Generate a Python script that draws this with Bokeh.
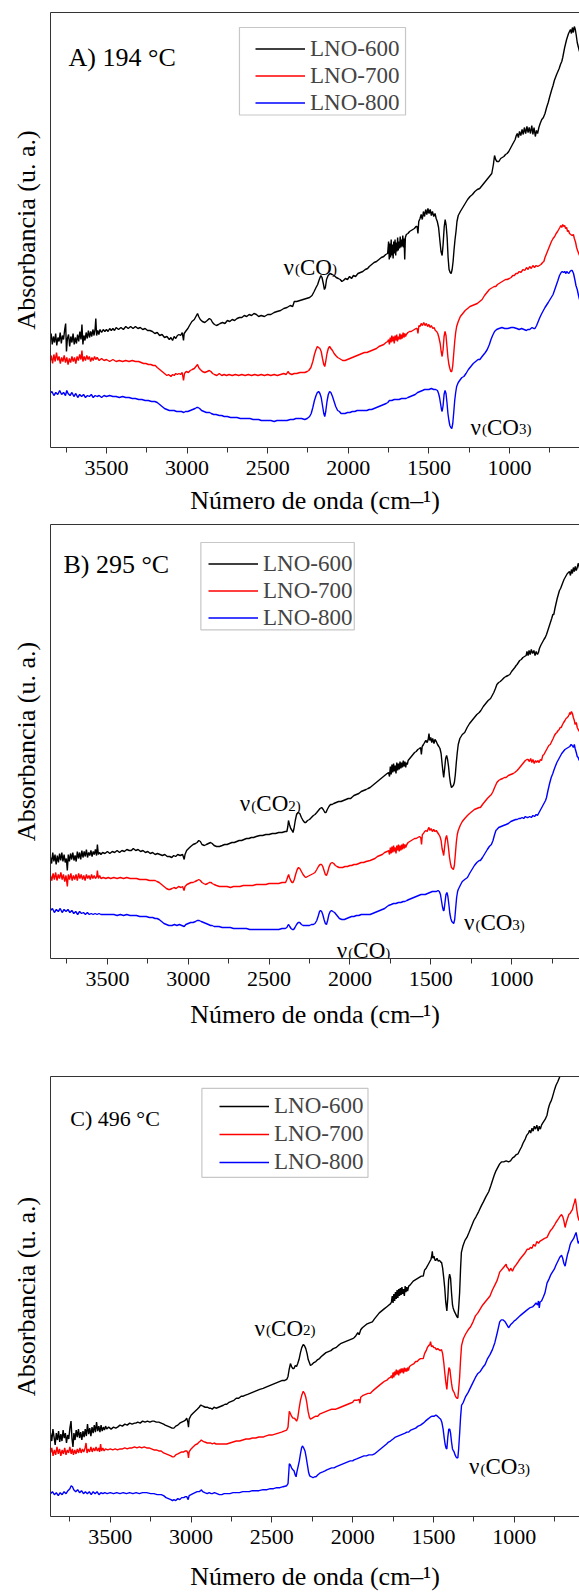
from bokeh.plotting import figure
from bokeh.models import (Range1d, LinearAxis, SingleIntervalTicker, FixedTicker, Legend, LegendItem,
                          BoxAnnotation)
from bokeh.core.properties import value
from bokeh.layouts import column
from bokeh.embed import file_html
from bokeh.resources import INLINE

FONT = "Liberation Serif"
AXC = "#333333"

# ---------------- data (wavenumber cm-1, absorbance a.u.) ----------------
SERIES = ["LNO-600", "LNO-700", "LNO-800"]
COLORS = ["#000000", "#ff0000", "#0000ff"]
TICK_STEP = 500

# Panel A, 194 °C
A600 = [(3850,108),(3843,114),(3836,103),(3829,111),(3822,105),(3815,114),(3808,102),(3801,110),(3794,106),(3787,115),
(3780,104),(3773,112),(3766,108),(3759,118),(3753,124),(3748,96),(3742,109),(3735,113),(3728,101),(3721,111),(3714,105),
(3707,114),(3700,103),(3693,110),(3686,104),(3679,113),(3672,106),(3665,116),(3658,108),(3652,123),(3646,103),(3640,112),
(3633,107),(3626,115),(3619,109),(3612,117),(3605,110),(3598,116),(3591,111),(3584,118),(3577,112),(3570,119),(3566,129),
(3561,112),(3554,117),(3547,113),(3540,118),(3530,115),(3520,118),(3510,116),(3500,118),(3490,116),(3480,119),(3470,117),
(3460,119),(3450,117),(3440,120),(3425,118),(3410,120),(3395,118),(3380,121),(3365,119),(3350,121),(3335,119),(3320,121),
(3305,119),(3290,120),(3275,118),(3260,119),(3245,117),(3230,117),(3215,116),(3200,114),(3185,115),(3170,112),(3155,113),
(3140,110),(3125,111),(3110,108),(3100,110),(3090,107),(3080,111),(3070,109),(3060,112),(3050,113),(3040,112),(3030,115),
(3022,107),(3018,114),(3005,117),(2995,119),(2985,122),(2970,126),(2955,128),(2945,131),(2935,134),(2928,131),(2918,128),
(2905,126),(2890,125),(2875,127),(2862,129),(2852,128),(2842,125),(2830,123),(2818,122),(2805,123),(2795,124),(2780,125),
(2765,124),(2750,127),(2735,126),(2720,128),(2705,127),(2690,129),(2675,130),(2660,130),(2645,132),(2630,131),(2615,133),
(2600,132),(2585,134),(2570,133),(2556,131),(2540,132),(2520,131),(2500,133),(2480,133),(2460,135),(2442,136),(2420,137),
(2400,139),(2380,140),(2360,142),(2345,141),(2335,146),(2320,146),(2300,147),(2280,148),(2260,149),(2240,150),(2225,152),
(2212,156),(2200,160),(2190,163),(2180,168),(2170,172),(2163,170),(2155,164),(2148,158),(2142,160),(2135,168),(2125,172),
(2113,174),(2100,173),(2088,172),(2075,170),(2062,169),(2050,168),(2040,166),(2030,167),(2018,169),(2005,168),(1992,171),
(1980,169),(1968,172),(1955,171),(1940,174),(1925,175),(1910,176),(1895,178),(1880,179),(1870,181),(1855,183),(1840,185),
(1825,186),(1810,188),(1795,190),(1780,191),(1768,193),(1756,194),(1750,206),(1746,188),(1742,204),(1738,190),(1734,208),
(1730,192),(1726,203),(1722,189),(1718,206),(1714,194),(1710,208),(1706,192),(1702,205),(1698,196),(1694,210),(1690,197),
(1686,206),(1682,199),(1678,211),(1674,200),(1670,208),(1666,201),(1662,212),(1658,200),(1654,209),(1650,188),(1646,210),
(1640,213),(1630,214),(1620,216),(1610,217),(1600,218),(1590,219),(1580,221),(1573,221),(1568,214),(1563,226),(1555,229),
(1548,233),(1541,228),(1534,236),(1527,231),(1520,238),(1513,233),(1506,239),(1499,234),(1492,238),(1485,232),(1478,236),
(1470,231),(1462,234),(1455,229),(1448,226),(1440,220),(1432,207),(1425,196),(1418,192),(1412,203),(1405,221),(1399,228),
(1393,222),(1387,210),(1381,190),(1375,178),(1368,175),(1362,174),(1356,178),(1350,186),(1344,198),(1338,208),(1332,216),
(1326,226),(1318,232),(1305,236),(1290,240),(1275,244),(1260,248),(1245,251),(1230,253),(1215,256),(1200,258),(1185,259),
(1170,262),(1155,265),(1140,268),(1125,271),(1110,274),(1100,283),(1093,292),(1086,288),(1078,286),(1066,286),(1055,289),
(1045,290),(1035,291),(1025,293),(1015,294),(1005,296),(995,299),(985,302),(975,305),(965,308),(958,312),(952,314),
(945,310),(938,316),(930,312),(922,318),(915,313),(908,320),(900,314),(892,321),(885,315),(878,320),(870,314),(862,322),
(855,313),(848,320),(840,311),(833,317),(826,314),(818,320),(810,324),(800,328),(790,330),(780,334),(770,340),(760,345),
(752,350),(745,354),(738,358),(730,362),(722,367),(715,370),(708,373),(700,376),(692,379),(684,383),(676,386),(670,390),
(664,395),(658,400),(652,404),(646,408),(640,411),(634,414),(628,416),(622,418),(616,414),(610,420),(604,415),(598,421),
(592,418),(586,412),(580,405),(574,401),(566,396)]

A700 = [(3850,85),(3842,92),(3834,84),(3826,93),(3818,86),(3810,95),(3802,87),(3794,91),(3786,84),(3778,90),(3770,86),
(3762,92),(3754,85),(3746,90),(3738,83),(3730,89),(3722,85),(3714,91),(3706,86),(3698,90),(3690,84),(3682,91),(3674,87),
(3666,93),(3658,88),(3652,97),(3646,86),(3638,91),(3630,87),(3622,92),(3614,88),(3606,91),(3598,86),(3590,90),(3582,87),
(3574,91),(3566,88),(3558,90),(3545,87),(3530,89),(3515,87),(3500,88),(3480,86),(3460,88),(3440,86),(3420,87),(3400,86),
(3380,87),(3360,86),(3340,87),(3320,86),(3300,86),(3285,85),(3270,84),(3255,84),(3240,83),(3225,83),(3210,82),(3197,82),
(3185,80),(3170,78),(3155,76),(3140,74),(3125,72),(3115,73),(3100,71),(3090,73),(3080,72),(3070,74),(3060,73),(3050,74),
(3040,73),(3030,75),(3022,67),(3016,74),(3005,76),(2992,75),(2980,77),(2968,78),(2955,79),(2945,81),(2935,83),(2928,80),
(2918,78),(2905,76),(2890,75),(2875,76),(2862,77),(2852,76),(2842,74),(2830,73),(2815,72),(2800,74),(2785,72),(2770,73),
(2755,72),(2740,73),(2720,72),(2700,73),(2680,72),(2660,73),(2640,72),(2620,73),(2600,72),(2580,73),(2560,72),(2540,73),
(2520,72),(2500,73),(2480,72),(2460,73),(2440,72),(2420,73),(2400,74),(2385,73),(2374,76),(2365,74),(2350,73),(2335,74),
(2320,74),(2300,75),(2285,75),(2270,75),(2255,76),(2245,77),(2232,80),(2220,86),(2210,93),(2200,98),(2192,101),(2184,100),
(2176,99),(2168,96),(2160,89),(2152,83),(2146,81),(2140,86),(2132,94),(2124,99),(2116,101),(2108,99),(2098,97),(2088,94),
(2078,92),(2066,90),(2055,89),(2045,88),(2035,87),(2020,87),(2005,88),(1990,89),(1975,90),(1960,91),(1945,92),(1930,93),
(1915,94),(1900,95),(1885,95),(1870,96),(1855,97),(1840,98),(1825,99),(1810,101),(1795,102),(1780,103),(1766,105),(1756,106),
(1750,108),(1745,103),(1740,110),(1735,105),(1730,112),(1725,106),(1720,111),(1715,104),(1710,112),(1705,107),(1700,113),
(1695,106),(1690,111),(1685,108),(1680,114),(1675,108),(1670,113),(1665,109),(1660,115),(1655,110),(1650,114),(1645,111),
(1640,113),(1630,115),(1620,116),(1610,116),(1600,117),(1590,118),(1580,119),(1573,119),(1568,114),(1562,122),(1555,121),
(1548,124),(1540,122),(1532,125),(1524,122),(1516,124),(1508,121),(1500,123),(1492,120),(1485,122),(1476,119),(1468,120),
(1460,117),(1452,116),(1445,114),(1438,110),(1430,104),(1424,96),(1418,91),(1412,98),(1406,111),(1400,116),(1394,112),
(1388,101),(1382,90),(1376,83),(1370,79),(1364,76),(1358,76),(1352,82),(1346,94),(1340,106),(1334,115),(1328,121),
(1318,126),(1305,131),(1290,134),(1275,137),(1260,139),(1245,141),(1230,142),(1215,143),(1200,144),(1185,146),(1170,148),
(1155,152),(1140,155),(1125,158),(1116,159),(1105,160),(1095,161),(1085,161),(1075,163),(1065,164),(1055,165),(1045,166),
(1035,167),(1025,168),(1015,168),(1001,169),(990,170),(980,172),(970,172),(960,174),(950,174),(940,176),(930,175),(916,178),
(905,177),(895,180),(885,178),(875,181),(865,179),(855,182),(845,180),(835,182),(825,181),(815,182),(805,183),(795,185),
(787,186),(780,190),(770,194),(760,198),(750,202),(740,206),(730,209),(720,211),(711,214),(702,216),(695,218),(688,220),
(682,222),(676,220),(670,223),(664,221),(658,222),(652,219),(646,220),(640,216),(634,217),(628,214),(620,213),(612,212),
(604,213),(598,209),(590,205),(584,200),(578,197),(566,192)]

A800 = [(3850,54),(3838,56),(3826,52),(3814,55),(3802,53),(3790,57),(3778,53),(3766,55),(3754,52),(3746,57),(3738,54),
(3726,52),(3714,55),(3702,51),(3690,54),(3678,50),(3666,53),(3654,51),(3642,53),(3630,50),(3618,52),(3606,51),(3594,53),
(3582,50),(3570,52),(3558,51),(3545,52),(3530,50),(3515,52),(3500,51),(3480,52),(3460,51),(3440,51),(3420,50),(3400,51),
(3380,50),(3360,50),(3340,49),(3320,49),(3300,48),(3280,48),(3260,47),(3240,47),(3220,46),(3200,46),(3185,45),(3170,43),
(3155,41),(3140,39),(3125,38),(3110,37),(3095,37),(3080,37),(3065,36),(3050,36),(3035,36),(3020,35),(3010,36),(2995,36),
(2980,37),(2965,38),(2950,39),(2940,40),(2932,40),(2922,39),(2910,37),(2895,36),(2880,35),(2870,35),(2860,35),(2850,34),
(2835,33),(2820,33),(2800,32),(2785,32),(2770,31),(2750,31),(2730,30),(2710,30),(2690,30),(2670,29),(2650,29),(2630,29),
(2610,29),(2590,28),(2570,28),(2556,28),(2540,27),(2520,27),(2500,27),(2480,27),(2460,26),(2442,27),(2420,27),(2400,27),
(2380,27),(2360,28),(2340,28),(2325,29),(2310,29),(2290,29),(2270,28),(2255,29),(2240,31),(2230,34),(2220,40),(2210,47),
(2200,52),(2192,55),(2184,56),(2176,54),(2168,50),(2160,42),(2152,34),(2146,31),(2140,36),(2132,46),(2124,53),(2116,56),
(2108,55),(2098,51),(2088,46),(2078,41),(2066,37),(2055,36),(2045,34),(2035,34),(2020,34),(2005,35),(1990,35),(1975,36),
(1960,36),(1945,37),(1930,37),(1915,37),(1900,37),(1885,37),(1870,38),(1855,38),(1840,39),(1825,40),(1810,41),(1795,42),
(1780,43),(1765,44),(1755,45),(1745,47),(1730,47),(1715,48),(1700,48),(1685,48),(1670,49),(1655,49),(1642,49),(1630,50),
(1615,51),(1600,52),(1585,53),(1570,55),(1555,56),(1540,57),(1527,58),(1515,58),(1500,58),(1485,59),(1470,58),(1458,58),
(1447,57),(1440,54),(1434,50),(1428,44),(1422,38),(1418,36),(1412,42),(1406,53),(1400,57),(1394,54),(1388,45),(1382,34),
(1376,27),(1370,22),(1364,20),(1358,19),(1352,24),(1346,35),(1340,47),(1334,55),(1328,61),(1318,65),(1305,68),(1295,70),
(1283,71),(1270,74),(1255,78),(1240,81),(1225,84),(1210,86),(1195,88),(1184,88),(1170,91),(1160,93),(1150,95),(1138,98),
(1125,103),(1115,108),(1105,112),(1093,116),(1080,118),(1065,119),(1047,120),(1030,119),(1010,119),(990,120),(975,120),
(955,119),(940,118),(925,119),(910,118),(895,117),(887,118),(875,118),(860,120),(850,119),(842,119),(832,122),(822,126),
(812,130),(800,134),(780,140),(760,145),(745,149),(730,153),(715,160),(700,167),(690,172),(680,175),(673,176),(665,175),
(658,176),(650,174),(645,176),(640,175),(632,174),(625,176),(618,177),(611,177),(603,174),(595,168),(588,162),(580,158),
(572,152),(566,148)]

# Panel B, 295 °C
B600 = [(3852,101),(3845,95),(3838,106),(3831,97),(3824,104),(3817,94),(3810,103),(3803,96),(3796,105),(3789,98),(3782,106),
(3775,97),(3768,104),(3761,96),(3754,100),(3748,88),(3742,104),(3735,97),(3728,105),(3721,99),(3714,106),(3707,98),(3700,103),
(3693,97),(3686,107),(3679,100),(3672,106),(3665,99),(3658,108),(3651,101),(3644,107),(3637,102),(3630,109),(3623,101),
(3616,106),(3609,103),(3602,108),(3595,102),(3588,107),(3581,104),(3574,109),(3567,103),(3562,114),(3556,104),(3549,106),
(3540,104),(3530,106),(3515,105),(3500,107),(3485,105),(3470,107),(3455,106),(3440,108),(3425,106),(3410,108),(3395,107),
(3380,109),(3365,108),(3352,108),(3340,110),(3325,108),(3310,109),(3295,107),(3280,108),(3265,106),(3250,107),(3235,105),
(3220,106),(3205,104),(3190,105),(3175,104),(3160,103),(3145,104),(3130,102),(3115,102),(3102,101),(3090,103),(3078,102),
(3065,104),(3050,103),(3035,104),(3025,99),(3020,104),(3010,108),(2998,110),(2985,112),(2970,114),(2955,115),(2945,116),
(2935,118),(2925,117),(2915,114),(2900,113),(2888,114),(2875,115),(2862,116),(2852,115),(2840,113),(2825,112),(2807,112),
(2790,113),(2775,114),(2760,114),(2745,115),(2730,116),(2715,116),(2700,117),(2685,118),(2670,118),(2655,119),(2640,120),
(2625,120),(2610,121),(2595,121),(2580,122),(2557,123),(2540,123),(2520,124),(2500,124),(2480,125),(2460,125),(2440,126),
(2420,126),(2400,127),(2390,127),(2384,132),(2380,138),(2374,134),(2366,130),(2358,128),(2352,126),(2346,130),(2338,138),
(2330,144),(2320,146),(2310,145),(2300,141),(2290,138),(2280,136),(2273,136),(2262,138),(2250,139),(2238,141),(2226,143),
(2216,144),(2205,146),(2195,148),(2185,150),(2175,151),(2165,149),(2155,146),(2148,146),(2140,149),(2130,152),(2120,154),
(2110,154),(2100,155),(2085,156),(2070,157),(2055,157),(2040,158),(2025,159),(2010,160),(1995,160),(1989,161),(1975,163),
(1960,164),(1945,165),(1930,167),(1915,168),(1900,169),(1888,170),(1875,171),(1860,173),(1845,175),(1830,177),(1815,179),
(1800,181),(1785,183),(1770,185),(1761,186),(1755,182),(1750,192),(1745,184),(1740,194),(1735,186),(1730,195),(1725,187),
(1720,193),(1715,185),(1710,196),(1705,188),(1700,195),(1695,189),(1690,197),(1685,190),(1680,196),(1675,191),(1670,198),
(1665,192),(1660,197),(1655,191),(1650,196),(1645,194),(1640,198),(1630,200),(1620,202),(1610,204),(1600,206),(1590,207),
(1580,209),(1570,210),(1563,211),(1558,204),(1553,212),(1545,214),(1538,216),(1530,218),(1522,216),(1516,219),(1511,225),
(1506,218),(1500,221),(1494,216),(1488,220),(1480,215),(1474,219),(1466,217),(1458,214),(1450,212),(1443,210),(1436,205),
(1430,195),(1424,186),(1420,181),(1414,190),(1408,200),(1402,203),(1396,199),(1390,192),(1384,182),(1378,175),(1372,171),
(1366,172),(1360,173),(1354,176),(1348,184),(1342,196),(1336,206),(1330,214),(1320,220),(1305,224),(1290,226),(1275,231),
(1260,235),(1245,238),(1230,241),(1215,244),(1200,246),(1190,248),(1175,252),(1160,255),(1145,258),(1130,260),(1120,263),
(1110,266),(1100,270),(1091,274),(1080,276),(1070,277),(1057,279),(1045,281),(1035,282),(1022,283),(1011,284),(1000,287),
(990,289),(980,291),(972,293),(966,294),(958,296),(950,298),(940,299),(930,301),(920,302),(910,303),(905,307),(898,303),
(892,308),(885,304),(878,309),(870,305),(862,308),(855,303),(848,307),(840,304),(834,306),(828,310),(820,313),(810,316),
(800,319),(792,321),(784,324),(776,328),(768,332),(760,336),(752,340),(745,344),(739,344),(732,350),(725,355),(718,360),
(711,364),(704,368),(697,370),(690,373),(683,376),(676,379),(669,381),(662,383),(655,385),(648,386),(642,387),(636,383),
(630,389),(624,385),(618,391),(612,387),(606,392),(600,388),(594,391),(588,395),(584,394),(580,390)]

B700 = [(3852,83),(3844,78),(3836,85),(3828,79),(3820,86),(3812,78),(3804,84),(3796,80),(3788,86),(3780,79),(3772,84),
(3764,77),(3756,83),(3748,72),(3742,84),(3734,79),(3726,85),(3718,78),(3710,83),(3702,79),(3694,84),(3686,78),(3678,85),
(3670,80),(3662,84),(3654,79),(3646,83),(3638,78),(3630,84),(3622,80),(3614,83),(3606,79),(3598,84),(3590,80),(3582,83),
(3574,80),(3566,82),(3562,88),(3556,80),(3548,83),(3540,80),(3525,81),(3510,80),(3495,81),(3480,80),(3460,81),(3440,80),
(3420,81),(3400,80),(3380,81),(3360,80),(3340,80),(3320,80),(3300,79),(3280,79),(3260,79),(3240,78),(3220,78),(3205,78),
(3193,77),(3180,76),(3165,74),(3150,72),(3135,70),(3122,69),(3114,69),(3100,70),(3088,71),(3075,70),(3060,72),(3045,71),
(3035,72),(3026,68),(3020,72),(3008,74),(2995,75),(2982,76),(2970,76),(2958,77),(2945,78),(2935,79),(2925,78),(2915,76),
(2905,75),(2893,74),(2880,75),(2870,76),(2858,76),(2852,75),(2840,74),(2825,73),(2807,72),(2790,72),(2775,72),(2760,72),
(2739,71),(2720,72),(2700,72),(2680,72),(2660,73),(2640,73),(2620,73),(2600,73),(2580,74),(2557,74),(2540,74),(2520,74),
(2500,75),(2480,75),(2460,75),(2440,75),(2420,76),(2405,76),(2398,76),(2390,79),(2384,82),(2379,84),(2374,81),(2366,78),
(2358,76),(2352,76),(2344,79),(2336,84),(2326,89),(2318,91),(2310,90),(2300,87),(2290,84),(2280,82),(2273,81),(2262,82),
(2250,83),(2238,84),(2226,85),(2216,86),(2205,89),(2195,92),(2185,94),(2175,94),(2168,92),(2160,88),(2152,84),(2145,83),
(2138,86),(2130,91),(2120,95),(2110,96),(2100,95),(2090,93),(2080,92),(2067,91),(2057,91),(2045,91),(2030,92),(2015,92),
(2000,93),(1989,93),(1975,94),(1960,94),(1945,95),(1930,96),(1915,96),(1900,97),(1875,98),(1860,99),(1845,100),(1830,102),
(1815,103),(1800,104),(1785,106),(1770,107),(1761,108),(1755,104),(1750,111),(1745,105),(1740,112),(1735,106),(1730,113),
(1725,107),(1720,111),(1715,105),(1710,113),(1705,108),(1700,114),(1695,107),(1690,113),(1685,108),(1680,114),(1675,109),
(1670,115),(1665,110),(1660,114),(1655,111),(1648,114),(1640,116),(1630,117),(1620,118),(1610,119),(1600,120),(1590,120),
(1580,121),(1570,122),(1562,121),(1557,114),(1552,124),(1545,125),(1538,127),(1530,128),(1522,127),(1515,130),(1511,131),
(1505,128),(1498,130),(1490,127),(1482,129),(1474,127),(1466,128),(1458,126),(1450,124),(1443,122),(1436,118),(1430,110),
(1424,106),(1420,103),(1414,112),(1408,120),(1402,123),(1396,118),(1390,110),(1384,101),(1378,95),(1372,91),(1366,90),
(1360,89),(1354,93),(1348,104),(1342,116),(1336,124),(1330,128),(1318,133),(1305,137),(1290,140),(1273,143),(1260,145),
(1245,147),(1230,149),(1215,150),(1200,151),(1193,151),(1180,154),(1165,157),(1150,160),(1138,162),(1125,164),(1115,167),
(1105,171),(1091,176),(1080,178),(1070,179),(1055,180),(1045,181),(1034,181),(1020,183),(1005,184),(990,185),(980,186),
(966,188),(955,190),(945,192),(935,194),(925,196),(915,198),(905,199),(898,199),(890,197),(882,200),(875,196),(868,199),
(860,195),(852,198),(845,196),(838,198),(830,196),(822,199),(815,198),(807,203),(800,204),(790,207),(780,210),(770,213),
(761,214),(752,217),(743,220),(735,223),(727,225),(720,226),(712,228),(705,229),(700,231),(693,231),(685,234),(678,236),
(670,238),(663,240),(656,241),(650,242),(644,244),(640,246),(636,244),(630,247),(624,245),(618,241),(612,238),(607,234),
(600,236),(594,231),(588,229),(584,228),(580,227)]

B800 = [(3852,48),(3840,50),(3828,46),(3816,49),(3804,47),(3792,50),(3780,46),(3768,49),(3756,47),(3744,49),(3732,46),
(3720,48),(3708,45),(3696,47),(3684,44),(3672,47),(3660,45),(3648,46),(3636,44),(3624,46),(3612,44),(3600,45),(3588,44),
(3576,45),(3564,44),(3552,45),(3540,44),(3520,44),(3500,44),(3480,44),(3460,44),(3440,43),(3420,44),(3400,43),(3380,44),
(3360,43),(3340,43),(3320,43),(3300,42),(3280,42),(3260,42),(3240,41),(3220,41),(3205,40),(3193,40),(3180,39),(3165,37),
(3150,35),(3135,34),(3120,33),(3114,33),(3100,33),(3085,34),(3070,33),(3055,34),(3040,33),(3025,32),(3015,34),(3000,35),
(2985,36),(2970,36),(2955,37),(2945,38),(2932,38),(2920,37),(2905,36),(2890,35),(2875,34),(2862,33),(2852,33),(2840,32),
(2825,32),(2810,32),(2790,31),(2770,31),(2739,31),(2720,30),(2700,30),(2680,30),(2660,30),(2640,30),(2620,29),(2600,29),
(2580,29),(2557,29),(2540,29),(2520,29),(2500,29),(2480,29),(2460,29),(2440,29),(2420,30),(2400,30),(2390,31),(2384,33),
(2379,34),(2372,32),(2364,30),(2356,29),(2348,29),(2340,31),(2330,34),(2320,36),(2310,36),(2300,34),(2290,33),(2280,33),
(2273,33),(2262,33),(2250,33),(2238,34),(2226,34),(2216,35),(2205,38),(2195,43),(2188,47),(2182,48),(2175,47),(2168,44),
(2160,39),(2152,35),(2145,34),(2138,38),(2130,44),(2122,47),(2114,48),(2105,47),(2095,46),(2085,44),(2075,42),(2065,40),
(2050,39),(2034,39),(2020,40),(2005,41),(1990,42),(1975,42),(1960,43),(1945,43),(1930,44),(1915,44),(1900,44),(1875,44),
(1860,45),(1845,46),(1830,47),(1815,48),(1800,49),(1785,50),(1770,52),(1761,53),(1745,54),(1730,55),(1715,55),(1700,56),
(1685,56),(1670,57),(1660,57),(1648,58),(1635,59),(1620,60),(1605,61),(1590,62),(1575,63),(1560,64),(1545,64),(1534,64),
(1520,65),(1505,66),(1490,67),(1475,67),(1465,67),(1455,68),(1447,67),(1440,64),(1434,58),(1428,52),(1422,48),(1418,48),
(1412,56),(1406,64),(1400,66),(1394,62),(1388,54),(1382,45),(1376,40),(1370,37),(1364,36),(1358,35),(1352,39),(1346,50),
(1340,61),(1334,67),(1330,69),(1318,73),(1305,77),(1290,79),(1273,81),(1260,85),(1245,89),(1230,93),(1215,96),(1200,98),
(1193,98),(1180,101),(1165,105),(1150,109),(1138,112),(1125,114),(1115,118),(1105,124),(1097,128),(1091,129),(1080,131),
(1065,132),(1050,133),(1034,134),(1020,135),(1005,137),(990,138),(975,139),(966,139),(955,140),(945,140),(935,141),(925,140),
(915,142),(905,141),(898,141),(888,142),(878,141),(868,143),(858,142),(848,144),(840,143),(830,146),(820,149),(810,152),
(800,155),(790,158),(784,161),(775,168),(765,175),(755,181),(745,185),(739,188),(730,192),(720,196),(710,199),(700,202),
(690,205),(680,207),(670,209),(660,210),(650,211),(640,212),(632,214),(625,213),(618,211),(612,214),(607,210),(600,206),
(594,202),(588,201),(584,199),(580,198)]

# Panel C, 496 °C
C600 = [(3870,84),(3862,76),(3855,88),(3848,80),(3841,72),(3834,84),(3827,77),(3820,86),(3813,75),(3806,83),(3799,76),
(3792,87),(3785,79),(3778,84),(3771,74),(3764,82),(3757,78),(3750,89),(3743,96),(3737,78),(3731,70),(3725,84),(3718,77),
(3711,87),(3704,80),(3697,88),(3690,79),(3683,85),(3676,77),(3669,86),(3662,80),(3655,88),(3648,81),(3641,93),(3634,83),
(3627,89),(3620,81),(3613,90),(3606,84),(3599,92),(3592,85),(3585,95),(3578,86),(3571,91),(3564,85),(3557,92),(3550,86),
(3543,90),(3536,87),(3529,91),(3522,88),(3510,90),(3495,88),(3480,90),(3466,89),(3455,90),(3440,92),(3425,91),(3410,93),
(3395,92),(3380,94),(3365,93),(3350,94),(3342,94),(3330,95),(3315,94),(3300,96),(3285,95),(3270,96),(3255,95),(3240,96),
(3230,96),(3215,95),(3200,95),(3185,94),(3170,93),(3160,92),(3145,91),(3130,90),(3118,89),(3106,89),(3095,91),(3082,92),
(3070,94),(3058,95),(3045,96),(3035,97),(3027,99),(3020,95),(3016,90),(3012,98),(3000,102),(2988,104),(2975,106),(2962,108),
(2950,110),(2942,112),(2937,112),(2925,111),(2912,110),(2900,110),(2888,109),(2878,109),(2869,108),(2858,110),(2845,109),
(2830,110),(2815,111),(2800,112),(2790,113),(2779,113),(2765,115),(2750,116),(2735,117),(2720,119),(2705,119),(2690,121),
(2680,121),(2667,122),(2650,123),(2635,124),(2620,125),(2605,126),(2590,127),(2575,128),(2554,129),(2540,130),(2525,131),
(2510,132),(2495,133),(2480,134),(2465,135),(2450,136),(2435,137),(2420,137),(2408,138),(2400,141),(2393,148),(2385,154),
(2378,151),(2370,149),(2363,149),(2355,152),(2347,151),(2340,154),(2332,158),(2323,165),(2315,170),(2306,173),(2298,172),
(2290,169),(2282,164),(2275,158),(2268,155),(2261,152),(2252,153),(2240,155),(2228,156),(2216,158),(2205,159),(2194,161),
(2180,163),(2165,165),(2150,166),(2135,167),(2120,169),(2104,170),(2090,172),(2075,174),(2060,175),(2045,176),(2030,177),
(2015,178),(2000,179),(1991,180),(1980,182),(1968,185),(1960,183),(1950,188),(1940,190),(1925,192),(1910,194),(1895,195),
(1878,196),(1865,199),(1850,202),(1835,205),(1820,207),(1805,209),(1790,211),(1775,213),(1766,214),(1760,216),(1755,222),
(1750,215),(1745,224),(1740,217),(1735,226),(1730,219),(1725,228),(1720,220),(1715,229),(1710,222),(1705,230),(1700,223),
(1695,231),(1690,224),(1685,229),(1680,222),(1675,232),(1670,226),(1665,231),(1660,227),(1653,232),(1645,233),(1635,235),
(1625,237),(1615,238),(1605,239),(1595,240),(1585,241),(1575,242),(1563,242),(1555,248),(1545,250),(1535,253),(1525,256),
(1515,259),(1510,263),(1507,267),(1503,260),(1497,262),(1490,258),(1484,258),(1478,260),(1470,257),(1462,258),(1455,256),
(1450,256),(1443,250),(1436,240),(1430,230),(1424,216),(1417,207),(1411,220),(1406,238),(1400,244),(1394,240),(1388,225),
(1382,213),(1378,210),(1372,207),(1366,205),(1360,203),(1354,201),(1349,200),(1344,210),(1338,225),(1332,250),(1327,266),
(1318,272),(1305,278),(1293,281),(1280,286),(1265,292),(1250,298),(1236,302),(1220,307),(1203,313),(1190,317),(1175,322),
(1158,327),(1145,333),(1135,338),(1125,343),(1113,348),(1100,352),(1090,355),(1079,357),(1065,357),(1050,358),(1035,357),
(1023,358),(1010,361),(1000,362),(990,364),(977,365),(965,369),(955,372),(945,376),(932,380),(922,384),(912,386),(905,389),
(898,386),(890,391),(883,388),(876,393),(868,390),(860,394),(852,388),(845,393),(838,390),(831,394),(824,396),(816,398),
(808,400),(800,403),(797,404),(790,410),(783,414),(776,417),(770,419),(764,422),(757,426),(750,430),(742,434),(736,436),
(730,438),(720,442),(710,446),(700,450),(680,456),(660,462),(640,470),(620,478),(600,486)]

C700 = [(3870,64),(3862,69),(3854,61),(3846,67),(3838,62),(3830,70),(3822,63),(3814,68),(3806,61),(3798,67),(3790,63),
(3782,69),(3774,62),(3766,67),(3758,64),(3750,70),(3742,63),(3735,68),(3728,62),(3720,67),(3712,63),(3704,68),(3696,64),
(3688,69),(3680,64),(3672,68),(3664,65),(3656,69),(3650,74),(3644,64),(3636,68),(3628,65),(3620,70),(3612,65),(3604,69),
(3596,66),(3588,70),(3580,66),(3572,69),(3566,65),(3560,73),(3554,66),(3546,69),(3538,66),(3530,68),(3515,67),(3500,68),
(3485,67),(3470,68),(3455,67),(3440,68),(3425,68),(3410,69),(3395,68),(3380,69),(3365,69),(3350,70),(3335,69),(3320,70),
(3305,69),(3290,70),(3275,69),(3260,69),(3245,68),(3230,67),(3215,67),(3200,66),(3185,66),(3170,64),(3155,63),(3140,62),
(3125,61),(3115,60),(3106,60),(3095,62),(3082,63),(3070,64),(3058,65),(3045,65),(3035,66),(3027,66),(3020,64),(3016,59),
(3012,65),(3000,68),(2988,70),(2975,72),(2962,73),(2950,75),(2942,76),(2937,77),(2928,76),(2915,75),(2900,74),(2888,74),
(2878,74),(2869,73),(2858,74),(2845,73),(2830,73),(2815,73),(2800,73),(2779,73),(2760,74),(2740,75),(2720,76),(2700,76),
(2680,77),(2660,78),(2640,78),(2620,79),(2600,79),(2580,80),(2554,80),(2540,81),(2520,82),(2500,82),(2480,83),(2460,84),
(2440,85),(2425,86),(2408,87),(2400,90),(2395,100),(2392,106),(2386,104),(2378,101),(2370,99),(2363,99),(2355,98),(2347,96),
(2340,99),(2332,108),(2323,117),(2315,122),(2306,126),(2298,124),(2290,120),(2284,115),(2276,106),(2268,100),(2261,98),
(2250,99),(2240,100),(2228,101),(2216,101),(2205,103),(2190,104),(2175,105),(2160,106),(2145,107),(2130,108),(2104,108),
(2090,109),(2075,110),(2060,111),(2045,112),(2030,113),(2015,114),(2000,115),(1991,117),(1975,117),(1960,118),(1955,114),
(1950,120),(1935,122),(1920,123),(1905,124),(1890,124),(1878,126),(1865,128),(1850,130),(1835,132),(1820,134),(1805,136),
(1790,137),(1778,139),(1766,140),(1760,142),(1755,139),(1750,145),(1745,140),(1740,146),(1735,142),(1730,148),(1725,143),
(1720,147),(1715,142),(1710,148),(1705,144),(1700,149),(1695,145),(1690,149),(1685,144),(1680,150),(1675,146),(1670,149),
(1665,146),(1660,150),(1655,147),(1648,151),(1640,152),(1631,153),(1620,154),(1610,156),(1600,156),(1590,158),(1580,159),
(1570,159),(1563,159),(1555,164),(1545,167),(1538,170),(1530,172),(1522,173),(1518,176),(1512,171),(1505,172),(1498,170),
(1490,170),(1482,168),(1474,169),(1466,168),(1458,167),(1450,168),(1443,164),(1436,155),(1430,145),(1424,136),(1417,128),
(1411,140),(1404,150),(1398,148),(1394,142),(1388,134),(1382,128),(1376,126),(1372,125),(1366,122),(1360,120),(1354,119),
(1349,119),(1344,128),(1338,140),(1332,158),(1326,172),(1315,179),(1300,184),(1285,188),(1270,191),(1255,196),(1240,202),
(1225,205),(1210,209),(1195,213),(1180,216),(1165,219),(1150,222),(1135,228),(1120,233),(1105,238),(1090,246),(1080,248),
(1070,250),(1060,252),(1050,254),(1045,251),(1038,250),(1030,247),(1022,250),(1011,247),(1000,251),(990,253),(977,256),
(965,259),(950,262),(935,265),(920,269),(909,269),(900,271),(890,270),(880,274),(870,272),(860,277),(850,275),(842,277),
(832,278),(822,279),(812,280),(797,281),(785,285),(775,288),(764,290),(752,293),(742,296),(730,299),(718,302),(707,304),
(700,302),(693,298),(685,291),(678,296),(670,300),(662,304),(655,305),(648,307),(640,309),(634,313),(628,316),(622,320),
(617,315),(612,308),(606,302),(599,298),(596,300)]

C800 = [(3870,23),(3858,25),(3846,22),(3834,24),(3822,21),(3810,24),(3798,22),(3786,25),(3774,23),(3762,26),(3750,28),
(3742,31),(3734,30),(3726,27),(3714,25),(3702,27),(3690,24),(3678,26),(3666,23),(3654,25),(3642,23),(3630,25),(3618,22),
(3606,25),(3594,23),(3582,25),(3570,22),(3558,24),(3546,23),(3534,24),(3520,23),(3500,24),(3480,23),(3460,24),(3440,23),
(3420,24),(3400,23),(3380,24),(3360,23),(3340,24),(3320,23),(3300,24),(3275,24),(3250,23),(3230,23),(3210,22),(3195,22),
(3185,22),(3170,21),(3155,19),(3140,18),(3125,17),(3115,16),(3106,17),(3095,16),(3082,18),(3070,17),(3058,19),(3045,19),
(3035,20),(3027,20),(3018,17),(3012,21),(3000,22),(2988,23),(2975,24),(2962,25),(2950,25),(2940,26),(2937,27),(2928,25),
(2915,24),(2900,23),(2888,24),(2875,23),(2869,23),(2855,24),(2840,23),(2825,22),(2810,22),(2795,23),(2779,23),(2760,23),
(2740,24),(2720,24),(2700,24),(2680,25),(2660,25),(2640,25),(2620,26),(2600,26),(2580,26),(2554,27),(2530,27),(2510,28),
(2490,28),(2470,29),(2450,29),(2430,30),(2408,31),(2400,33),(2395,45),(2392,53),(2386,52),(2378,49),(2370,47),(2363,46),
(2356,42),(2350,40),(2345,45),(2338,50),(2330,56),(2323,63),(2316,69),(2311,71),(2303,69),(2295,66),(2288,60),(2280,52),
(2272,44),(2266,41),(2255,40),(2245,39),(2235,40),(2227,40),(2215,42),(2200,44),(2185,45),(2171,46),(2160,47),(2145,48),
(2130,49),(2115,49),(2104,50),(2090,51),(2075,52),(2060,53),(2045,54),(2030,55),(2015,56),(2000,56),(1991,57),(1975,58),
(1960,59),(1945,60),(1930,61),(1915,61),(1900,62),(1878,62),(1865,63),(1850,65),(1835,67),(1820,69),(1805,71),(1790,73),
(1778,75),(1766,76),(1750,78),(1735,80),(1720,81),(1705,82),(1690,83),(1675,84),(1665,85),(1653,85),(1640,87),(1625,88),
(1610,89),(1595,91),(1580,92),(1563,94),(1550,96),(1535,98),(1520,100),(1508,101),(1495,101),(1485,102),(1475,101),
(1462,99),(1455,98),(1448,95),(1440,88),(1434,80),(1428,73),(1422,69),(1417,68),(1411,80),(1405,88),(1399,88),(1394,84),
(1388,75),(1382,68),(1376,66),(1372,65),(1366,62),(1360,60),(1354,59),(1349,59),(1344,68),(1338,83),(1332,100),(1326,112),
(1315,115),(1300,121),(1285,125),(1270,130),(1255,135),(1240,140),(1225,144),(1210,146),(1195,150),(1180,153),(1165,159),
(1150,163),(1135,168),(1120,175),(1105,185),(1090,196),(1080,198),(1070,198),(1056,196),(1045,193),(1035,190),(1023,193),
(1010,195),(1000,197),(990,198),(977,200),(965,202),(950,204),(935,206),(920,208),(905,210),(887,211),(875,213),(865,215),
(855,213),(850,217),(845,210),(840,216),(831,217),(820,221),(810,225),(797,235),(785,239),(775,243),(764,246),(752,249),
(742,253),(730,257),(718,261),(707,263),(700,260),(693,255),(685,252),(678,258),(670,264),(662,268),(655,273),(648,276),
(640,278),(632,280),(625,283),(617,286),(610,280),(604,275),(599,277),(596,276)]

PANEL_TITLES = ["A) 194 °C", "B) 295 °C", "C) 496 °C"]
X_TITLE = "Número de onda (cm–¹)"
Y_TITLE = "Absorbancia (u. a.)"

EM = {"ν": 0.5, "(": 0.333, ")": 0.333, "C": 0.667, "O": 0.722, "2": 0.5, "3": 0.5}


def add_nu(p, wn, yv, mol, sub, big=23, small=15):
    parts = [("ν", big, 0), ("(", small, 2), (mol, big, 0)]
    if sub:
        parts.append((sub, small, 2))
    parts.append((")", small, 2))
    off = 0.0
    for txt, size, dy in parts:
        p.text(x=[wn], y=[yv], text=[txt], x_offset=off, y_offset=dy,
               text_font=value(FONT), text_font_size=f"{size}px", text_color="#000000",
               text_baseline="alphabetic", text_align="left")
        off += sum(EM.get(c, 0.6) for c in txt) * size


def make_panel(height, top, bottom, left, x0, x1, ymax, data, title, title_pos, title_size,
               leg_loc, leg_row, box, notes, xlab_standoff):
    p = figure(width=579, height=height, x_range=Range1d(x0, x1), y_range=Range1d(0, ymax),
               output_backend="svg", toolbar_location=None,
               min_border_left=left, min_border_right=0, min_border_top=top, min_border_bottom=bottom)
    p.outline_line_color = None
    p.grid.visible = False
    p.background_fill_color = "white"
    p.border_fill_color = "white"

    xa = p.xaxis[0]
    xa.ticker = SingleIntervalTicker(interval=TICK_STEP, num_minor_ticks=2)
    xa.major_tick_out = 6
    xa.major_tick_in = 0
    xa.minor_tick_out = 5
    xa.minor_tick_in = 0
    xa.axis_line_color = AXC
    xa.major_tick_line_color = AXC
    xa.minor_tick_line_color = AXC
    xa.major_label_text_font = FONT
    xa.major_label_text_font_size = "22px"
    xa.major_label_text_color = "#000000"
    xa.major_label_standoff = 7
    xa.axis_label = X_TITLE
    xa.axis_label_text_font = FONT
    xa.axis_label_text_font_size = "26px"
    xa.axis_label_text_font_style = "normal"
    xa.axis_label_text_color = "#000000"
    xa.axis_label_standoff = xlab_standoff

    ya = p.yaxis[0]
    ya.ticker = FixedTicker(ticks=[])
    ya.major_tick_out = 0
    ya.major_tick_in = 0
    ya.minor_tick_out = 0
    ya.minor_tick_in = 0
    ya.major_label_standoff = 0
    ya.axis_line_color = AXC
    ya.axis_label = Y_TITLE
    ya.axis_label_text_font = FONT
    ya.axis_label_text_font_size = "26px"
    ya.axis_label_text_font_style = "normal"
    ya.axis_label_text_color = "#000000"
    ya.axis_label_standoff = 10

    topax = LinearAxis(ticker=FixedTicker(ticks=[]), major_tick_out=0, major_tick_in=0,
                       minor_tick_out=0, minor_tick_in=0, major_label_standoff=0,
                       axis_line_color=AXC)
    p.add_layout(topax, "above")

    rends = []
    for pts, color in zip(data, COLORS):
        xs = [a for a, b in pts]
        ys = [b for a, b in pts]
        rends.append(p.line(xs, ys, line_color=color, line_width=1.4))

    p.add_layout(BoxAnnotation(left=box[0], right=box[1], top=box[2], bottom=box[3],
                               fill_alpha=0, line_color="#444444", line_width=1.2))
    leg = Legend(items=[LegendItem(label=s, renderers=[r]) for s, r in zip(SERIES, rends)],
                 location=leg_loc, padding=0, spacing=0, margin=0,
                 glyph_width=50, glyph_height=leg_row, label_height=leg_row, label_standoff=5,
                 label_text_font=FONT, label_text_font_size="23px",
                 border_line_color=None, background_fill_alpha=0)
    p.add_layout(leg)

    p.text(x=[title_pos[0]], y=[title_pos[1]], text=[title], text_font=value(FONT),
           text_font_size=f"{title_size}px", text_baseline="alphabetic", text_color="#000000")

    for wn, yv, mol, sub in notes:
        add_nu(p, wn, yv, mol, sub)
    return p


pA = make_panel(520, 12, 73, 50, 3847, 566, 435, [A600, A700, A800], PANEL_TITLES[0], (3735, 390.5), 26,
                (205, 331), 27, (2675, 1645, 420, 332.5),
                [(2402, 180.5, "CO", ""), (1242, 20.5, "CO", "3")], 8)
pB = make_panel(520, 4, 82, 48, 3852, 580, 434, [B600, B700, B800], PANEL_TITLES[1], (3772, 394.4), 26,
                (158, 327), 27, (2922, 1973, 416, 328.7),
                [(2681, 154.7, "CO", "2"), (1295, 36, "CO", "3"), (2081, 7.7, "CO", "")], 11)
pC = make_panel(553, 36, 74, 46, 3870, 596, 443, [C600, C700, C800], PANEL_TITLES[2], (3747, 400.7), 22,
                (169, 340), 28, (2933, 1905, 431, 341.5),
                [(2607, 189.3, "CO", "2"), (1280, 50, "CO", "3")], 15)

layout = column(pA, pB, pC, spacing=0)
open("out.html", "w").write(file_html(layout, INLINE))
